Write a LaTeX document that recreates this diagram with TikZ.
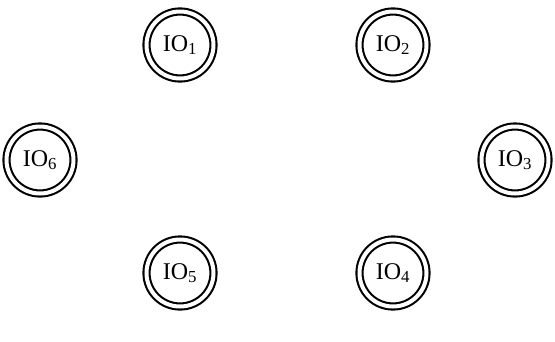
\documentclass[tikz,border=0pt]{standalone}
\usepackage{fontspec}
\setmainfont{Liberation Serif}
\begin{document}
\begin{tikzpicture}[x=1pt,y=-1pt,
  io/.style={circle, draw, line width=2.1pt, double distance=4pt, minimum size=67pt, inner sep=0pt,
    font=\fontsize{24}{28}\selectfont}]
\useasboundingbox (0,0) rectangle (555,341);
\node[io] (n1) at (180,45) {IO\textsubscript{1}};
\node[io] (n2) at (393,45) {IO\textsubscript{2}};
\node[io] (n6) at (40,160) {IO\textsubscript{6}};
\node[io] (n3) at (515,160) {IO\textsubscript{3}};
\node[io] (n5) at (180,273) {IO\textsubscript{5}};
\node[io] (n4) at (393,273) {IO\textsubscript{4}};
\end{tikzpicture}
\end{document}
